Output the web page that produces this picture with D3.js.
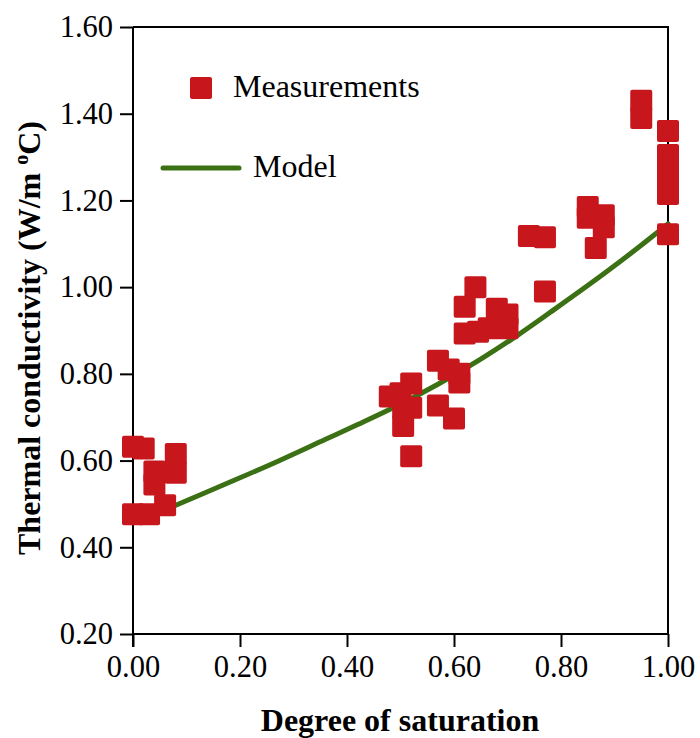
<!DOCTYPE html>
<html>
<head>
<meta charset="utf-8">
<script src="https://cdn.jsdelivr.net/npm/d3@7"></script>
<style>
  html, body { margin: 0; padding: 0; background: #fff; }
  svg { display: block; }
  text { font-family: "Liberation Serif", "Times New Roman", serif; }
</style>
</head>
<body>
<svg id="chart" width="700" height="738"></svg>
<script>
// ---- data ----
const measSat = [0.000, 0.020, 0.080, 0.080, 0.040, 0.040, 0.060, 0.000, 0.030,
  0.480, 0.500, 0.520, 0.505, 0.505, 0.520, 0.520, 0.570, 0.590, 0.610, 0.610, 0.570, 0.600,
  0.640, 0.620, 0.620, 0.645, 0.665, 0.680, 0.700, 0.700,
  0.740, 0.770, 0.770, 0.850, 0.850, 0.880, 0.880, 0.865, 0.950, 0.950,
  1.000, 1.000, 1.000, 1.000, 1.000, 1.000];
const measK = [0.632, 0.628, 0.615, 0.572, 0.575, 0.545, 0.497, 0.476, 0.476,
  0.748, 0.755, 0.778, 0.722, 0.680, 0.722, 0.610, 0.830, 0.810, 0.800, 0.780, 0.727, 0.697,
  1.000, 0.955, 0.893, 0.897, 0.905, 0.950, 0.937, 0.905,
  1.118, 1.115, 0.990, 1.185, 1.160, 1.166, 1.138, 1.090, 1.430, 1.390,
  1.360, 1.305, 1.270, 1.240, 1.215, 1.122];
const modelSat = [0.03, 0.08, 0.175, 0.27, 0.36, 0.42, 0.49, 0.57, 0.65, 0.72, 0.78, 0.89, 0.98, 1.00];
const modelK   = [0.470, 0.497, 0.547, 0.598, 0.649, 0.683, 0.724, 0.776, 0.834, 0.890, 0.942, 1.040, 1.126, 1.146];
const xTicks = [0.00, 0.20, 0.40, 0.60, 0.80, 1.00];
const xMinorTicks = [0.05, 0.10, 0.15, 0.25, 0.30, 0.35, 0.45, 0.50, 0.55, 0.65, 0.70, 0.75, 0.85, 0.90, 0.95];
const yTicks = [0.20, 0.40, 0.60, 0.80, 1.00, 1.20, 1.40, 1.60];
const yMinorTicks = [0.30, 0.50, 0.70, 0.90, 1.10, 1.30, 1.50];
const xTitle = "Degree of saturation";
const yTitle = "Thermal conductivity (W/m ";
const legendMeas = "Measurements";
const legendModel = "Model";

// ---- layout ----
const svg = d3.select("#chart");
const L = 133, R = 668, T = 27, B = 634;
const x = d3.scaleLinear().domain([0, 1]).range([L, R]);
const y = d3.scaleLinear().domain([0.2, 1.6]).range([B, T]);
const red = "#c8161d", green = "#3c7015";
const FS = 30.5, TFS = 32;

// frame (top and right)
svg.append("path")
  .attr("d", `M${L},${T}H${R}V${B}`)
  .attr("fill", "none").attr("stroke", "#000").attr("stroke-width", 2);

// x axis
const gx = svg.append("g").attr("transform", `translate(0,${B})`);
gx.call(d3.axisBottom(x).tickValues(xMinorTicks).tickSize(10).tickFormat(""));
gx.call(d3.axisBottom(x).tickValues(xTicks).tickSize(13).tickPadding(8).tickFormat(d3.format(".2f")));
gx.selectAll(".domain").remove();
svg.append("line").attr("x1", L).attr("x2", R).attr("y1", B).attr("y2", B)
  .attr("stroke", "#000").attr("stroke-width", 2);

// y axis
const gy = svg.append("g").attr("transform", `translate(${L},0)`);
gy.call(d3.axisLeft(y).tickValues(yMinorTicks).tickSize(10).tickFormat(""));
gy.call(d3.axisLeft(y).tickValues(yTicks).tickSize(13).tickPadding(7).tickFormat(d3.format(".2f")));
gy.selectAll(".domain").remove();
svg.append("line").attr("x1", L).attr("x2", L).attr("y1", T).attr("y2", B + 13)
  .attr("stroke", "#000").attr("stroke-width", 2);

svg.selectAll(".tick line").attr("stroke", "#000").attr("stroke-width", 2);
svg.selectAll(".tick text").attr("fill", "#000").attr("font-size", FS)
  .attr("font-family", "Liberation Serif");

// model line
const model = modelSat.map((s, i) => [s, modelK[i]]);
svg.append("path").datum(model)
  .attr("fill", "none").attr("stroke", green).attr("stroke-width", 5)
  .attr("stroke-linecap", "round")
  .attr("d", d3.line().x(d => x(d[0])).y(d => y(d[1])).curve(d3.curveMonotoneX));

// measurements
const sz = 22;
const meas = measSat.map((s, i) => [s, measK[i]]);
svg.append("g").selectAll("rect").data(meas).join("rect")
  .attr("x", d => x(d[0]) - sz / 2).attr("y", d => y(d[1]) - sz / 2)
  .attr("width", sz).attr("height", sz).attr("rx", 2)
  .attr("fill", red);

// legend
svg.append("rect").attr("x", 190).attr("y", 77).attr("width", 22).attr("height", 22)
  .attr("rx", 2).attr("fill", red);
svg.append("text").attr("x", 233).attr("y", 97).attr("font-size", TFS).text(legendMeas);
svg.append("line").attr("x1", 163).attr("x2", 239).attr("y1", 168).attr("y2", 168)
  .attr("stroke", green).attr("stroke-width", 5).attr("stroke-linecap", "round");
svg.append("text").attr("x", 253).attr("y", 177).attr("font-size", TFS).text(legendModel);

// axis titles
svg.append("text").attr("x", 400).attr("y", 731).attr("text-anchor", "middle")
  .attr("font-size", TFS).attr("font-weight", "bold").text(xTitle);
const yt = svg.append("text").attr("transform", `translate(40,338) rotate(-90)`)
  .attr("text-anchor", "middle").attr("font-size", TFS).attr("font-weight", "bold");
yt.append("tspan").text(yTitle);
yt.append("tspan").attr("font-size", 20).attr("dy", -12).text("o");
yt.append("tspan").attr("dy", 12).text("C)");
</script>
</body>
</html>
